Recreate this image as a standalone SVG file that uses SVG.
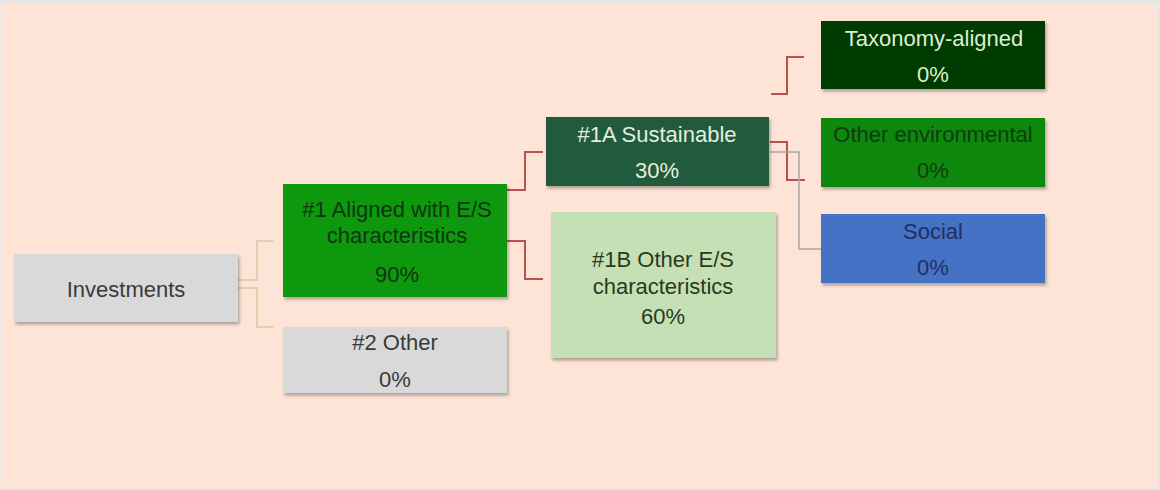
<svg xmlns="http://www.w3.org/2000/svg" width="1160" height="490" viewBox="0 0 1160 490">
  <defs>
    <filter id="sh" x="-10%" y="-10%" width="125%" height="135%">
      <feDropShadow dx="1.5" dy="2.5" stdDeviation="1.8" flood-color="#000" flood-opacity="0.3"/>
    </filter>
  </defs>
  <style>
    text { font-family: "Liberation Sans", Arial, sans-serif; font-size: 22px; text-anchor: middle; }
    .box { filter: url(#sh); }
    .red { fill: none; stroke: #b9524a; stroke-width: 2; }
    .tan { fill: none; stroke: #d9c5a3; stroke-width: 1.5; }
    .gry { fill: none; stroke: #a8a8a8; stroke-width: 1.5; }
  </style>
  <rect x="0" y="0" width="1160" height="490" fill="#e6e6e6"/>
  <rect x="1" y="4" width="1157" height="484" fill="#fde4d7"/>

  <g id="connectors">
    <path class="tan" d="M238,280 H257 V241 H273"/>
    <path class="tan" d="M238,288 H257 V327 H273"/>
    <path class="red" d="M507,190 H525 V152 H543"/>
    <path class="red" d="M507,241 H525 V279 H543"/>
    <path class="red" d="M770,142 H787 V180 H805"/>
    <path class="gry" d="M770,152 H799 V249 H821"/>
    <path class="red" d="M771,94 H787 V57 H804"/>
  </g>

  <g id="investments">
    <rect class="box" x="14" y="254" width="224" height="68" fill="#d9d9d9"/>
    <text x="126" y="297" fill="#3a3a3a">Investments</text>
  </g>
  <g id="aligned">
    <rect class="box" x="283" y="184" width="224" height="113" fill="#089808"/>
    <text x="397" y="217" fill="#0f360f">#1 Aligned with E/S</text>
    <text x="397" y="243" fill="#0f360f">characteristics</text>
    <text x="397" y="282" fill="#0f360f">90%</text>
  </g>
  <g id="other">
    <rect class="box" x="283" y="327" width="224" height="66" fill="#d9d9d9"/>
    <text x="395" y="350" fill="#3a3a3a">#2 Other</text>
    <text x="395" y="387" fill="#3a3a3a">0%</text>
  </g>
  <g id="sustainable">
    <rect class="box" x="546" y="117" width="223" height="69" fill="#245a3c"/>
    <text x="657" y="142" fill="#e4efdc">#1A Sustainable</text>
    <text x="657" y="178" fill="#e4efdc">30%</text>
  </g>
  <g id="other-es">
    <rect class="box" x="551" y="212" width="225" height="146" fill="#c5e0b4"/>
    <text x="663" y="267" fill="#283a20">#1B Other E/S</text>
    <text x="663" y="294" fill="#283a20">characteristics</text>
    <text x="663" y="324" fill="#283a20">60%</text>
  </g>
  <g id="taxonomy">
    <rect class="box" x="821" y="21" width="224" height="68" fill="#053a05"/>
    <text x="934" y="46" fill="#dcefd4">Taxonomy-aligned</text>
    <text x="933" y="82" fill="#dcefd4">0%</text>
  </g>
  <g id="other-env">
    <rect class="box" x="821" y="118" width="224" height="69" fill="#088808"/>
    <text x="933" y="142" fill="#0d3d0d">Other environmental</text>
    <text x="933" y="178" fill="#0d3d0d">0%</text>
  </g>
  <g id="social">
    <rect class="box" x="821" y="214" width="224" height="69" fill="#4472c4"/>
    <text x="933" y="239" fill="#1f3060">Social</text>
    <text x="933" y="275" fill="#1f3060">0%</text>
  </g>
</svg>
